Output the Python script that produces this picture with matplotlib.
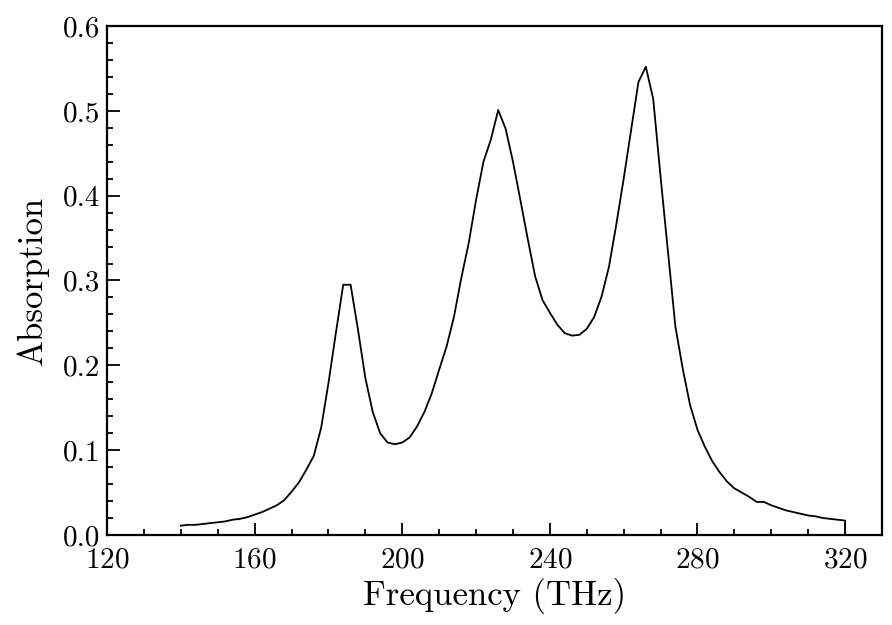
import matplotlib
matplotlib.use('Agg')
import matplotlib.pyplot as plt
from matplotlib.ticker import MultipleLocator

plt.rcParams['font.family'] = 'cmr10'
plt.rcParams['mathtext.fontset'] = 'cm'
plt.rcParams['axes.formatter.use_mathtext'] = True

# frequency (THz), 2 THz step, last point closes to zero
freq = [140, 142, 144, 146, 148, 150, 152, 154, 156, 158,
        160, 162, 164, 166, 168, 170, 172, 174, 176, 178,
        180, 182, 184, 186, 188, 190, 192, 194, 196, 198,
        200, 202, 204, 206, 208, 210, 212, 214, 216, 218,
        220, 222, 224, 226, 228, 230, 232, 234, 236, 238,
        240, 242, 244, 246, 248, 250, 252, 254, 256, 258,
        260, 262, 264, 266, 268, 270, 272, 274, 276, 278,
        280, 282, 284, 286, 288, 290, 292, 294, 296, 298,
        300, 302, 304, 306, 308, 310, 312, 314, 316, 318,
        320, 320]
absorption = [0.011, 0.012, 0.012, 0.013, 0.014, 0.015, 0.016, 0.018, 0.019, 0.021,
              0.024, 0.027, 0.031, 0.035, 0.041, 0.051, 0.062, 0.077, 0.093, 0.126,
              0.179, 0.238, 0.295, 0.295, 0.242, 0.185, 0.145, 0.120, 0.109, 0.107,
              0.109, 0.115, 0.128, 0.145, 0.167, 0.195, 0.222, 0.257, 0.303, 0.344,
              0.395, 0.440, 0.466, 0.501, 0.479, 0.440, 0.395, 0.349, 0.305, 0.277,
              0.262, 0.248, 0.238, 0.235, 0.236, 0.243, 0.257, 0.281, 0.316, 0.366,
              0.420, 0.477, 0.534, 0.552, 0.514, 0.422, 0.334, 0.246, 0.196, 0.153,
              0.124, 0.104, 0.087, 0.074, 0.063, 0.055, 0.050, 0.045, 0.039, 0.039,
              0.035, 0.032, 0.029, 0.027, 0.025, 0.023, 0.022, 0.020, 0.019, 0.018,
              0.017, 0.0]

fig = plt.figure(figsize=(8.92, 6.25), dpi=100)
ax = fig.add_axes([0.12, 0.144, 0.8688, 0.8144])
ax.plot(freq, absorption, color='black', linewidth=1.3)

ax.set_xlim(120, 330)
ax.set_ylim(0, 0.6)
ax.xaxis.set_major_locator(MultipleLocator(40))
ax.xaxis.set_minor_locator(MultipleLocator(10))
ax.yaxis.set_major_locator(MultipleLocator(0.1))
ax.yaxis.set_minor_locator(MultipleLocator(0.02))
ax.yaxis.set_major_formatter(matplotlib.ticker.FormatStrFormatter('%.1f'))

ax.tick_params(which='both', direction='in', width=1.3, labelsize=21)
ax.tick_params(which='major', length=9)
ax.tick_params(which='minor', length=4.5)
ax.tick_params(axis='x', pad=9)
ax.tick_params(axis='y', pad=5)
for s in ax.spines.values():
    s.set_linewidth(1.6)

ax.set_xlabel('Frequency (THz)', fontsize=25, labelpad=3)
ax.set_ylabel('Absorption', fontsize=25, labelpad=10)

plt.savefig('out.png', dpi=100)
plt.close()
